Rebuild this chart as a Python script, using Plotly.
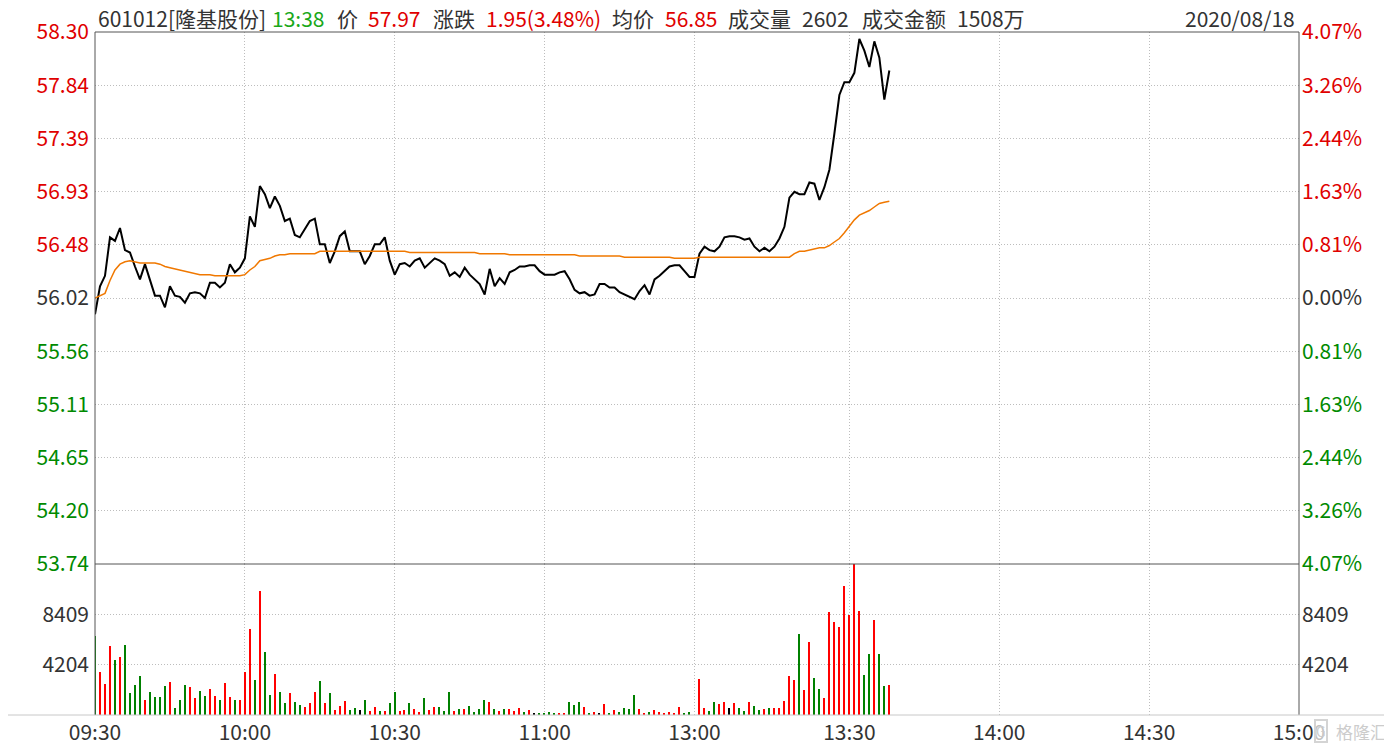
import plotly.graph_objects as go

# ---------------- data ----------------
time_labels = ["09:30", "10:00", "10:30", "11:00", "13:00", "13:30", "14:00", "14:30", "15:00"]
time_ticks = [0, 30, 60, 90, 120, 151, 181, 211, 241]

price_ticks = [58.30, 57.84, 57.39, 56.93, 56.48, 56.02, 55.56, 55.11, 54.65, 54.20, 53.74]
price_labels = ["58.30", "57.84", "57.39", "56.93", "56.48", "56.02", "55.56", "55.11", "54.65", "54.20", "53.74"]
pct_labels = ["4.07%", "3.26%", "2.44%", "1.63%", "0.81%", "0.00%", "0.81%", "1.63%", "2.44%", "3.26%", "4.07%"]
label_side = ["up", "up", "up", "up", "up", "flat", "down", "down", "down", "down", "down"]

vol_ticks = [4204, 8409]
vol_labels = ["4204", "8409"]

price = [
    55.88, 56.12, 56.21, 56.54, 56.51, 56.62, 56.43, 56.41, 56.29, 56.18,
    56.31, 56.18, 56.04, 56.04, 55.94, 56.12, 56.04, 56.03, 55.98, 56.06,
    56.07, 56.06, 56.02, 56.15, 56.15, 56.11, 56.15, 56.31, 56.24, 56.28,
    56.36, 56.72, 56.63, 56.98, 56.91, 56.79, 56.89, 56.81, 56.68, 56.70,
    56.56, 56.54, 56.61, 56.68, 56.70, 56.48, 56.48, 56.32, 56.42, 56.55,
    56.59, 56.42, 56.42, 56.42, 56.31, 56.38, 56.48, 56.48, 56.54, 56.34,
    56.22, 56.31, 56.32, 56.29, 56.34, 56.36, 56.28, 56.32, 56.36, 56.34,
    56.31, 56.21, 56.24, 56.20, 56.28, 56.22, 56.18, 56.14, 56.05, 56.27,
    56.12, 56.19, 56.14, 56.24, 56.26, 56.29, 56.29, 56.30, 56.30, 56.25,
    56.22, 56.22, 56.22, 56.24, 56.25, 56.18, 56.09, 56.06, 56.07, 56.04,
    56.05, 56.14, 56.14, 56.11, 56.11, 56.07, 56.05, 56.03, 56.01, 56.08,
    56.13, 56.05, 56.18, 56.21, 56.25, 56.29, 56.30, 56.30, 56.25, 56.20,
    56.20,
    56.40, 56.46, 56.43, 56.42, 56.46, 56.54, 56.55, 56.55, 56.54, 56.52,
    56.53, 56.46, 56.42, 56.45, 56.42, 56.46, 56.53, 56.63, 56.88, 56.93,
    56.91, 56.91, 57.01, 57.00, 56.86, 56.97, 57.12, 57.43, 57.76, 57.87,
    57.87, 57.95, 58.24, 58.14, 58.00, 58.22, 58.08, 57.72, 57.97,
]

avg_price = [
    56.02, 56.04, 56.06, 56.17, 56.26, 56.31, 56.33, 56.34, 56.33, 56.32,
    56.32, 56.32, 56.32, 56.31, 56.29, 56.28, 56.27, 56.26, 56.25, 56.24,
    56.23, 56.22, 56.22, 56.22, 56.21, 56.21, 56.21, 56.21, 56.21, 56.21,
    56.22, 56.26, 56.29, 56.34, 56.35, 56.36, 56.38, 56.39, 56.39, 56.40,
    56.40, 56.40, 56.40, 56.40, 56.40, 56.42, 56.42, 56.42, 56.42, 56.42,
    56.42, 56.42, 56.42, 56.42, 56.42, 56.42, 56.42, 56.42, 56.42, 56.42,
    56.42, 56.42, 56.42, 56.41, 56.41, 56.41, 56.41, 56.41, 56.41, 56.41,
    56.41, 56.41, 56.41, 56.41, 56.41, 56.41, 56.41, 56.40, 56.40, 56.40,
    56.40, 56.40, 56.40, 56.39, 56.39, 56.39, 56.39, 56.39, 56.39, 56.39,
    56.39, 56.39, 56.39, 56.39, 56.39, 56.39, 56.39, 56.38, 56.38, 56.38,
    56.38, 56.38, 56.38, 56.38, 56.38, 56.38, 56.37, 56.37, 56.37, 56.37,
    56.37, 56.37, 56.37, 56.37, 56.37, 56.37, 56.36, 56.36, 56.36, 56.36,
    56.36,
    56.37, 56.37, 56.37, 56.37, 56.37, 56.37, 56.37, 56.37, 56.37, 56.37,
    56.37, 56.37, 56.37, 56.37, 56.37, 56.37, 56.37, 56.37, 56.37, 56.40,
    56.42, 56.42, 56.43, 56.44, 56.45, 56.45, 56.47, 56.50, 56.53, 56.58,
    56.63, 56.69, 56.73, 56.75, 56.77, 56.80, 56.83, 56.84, 56.85,
]

volume = [
    6587, 3560, 2607, 5802, 4625, 4877, 5886, 1822, 2523, 3280,
    1261, 1934, 1514, 1514, 2439, 2775, 589, 1261, 2523, 2355,
    1430, 2018, 1598, 2186, 1598, 1261, 2691, 1514, 1261, 1261,
    3616, 7148, 2943, 10343, 5298, 1682, 3448, 1934, 1009, 1850,
    1093, 841, 673, 1009, 1934, 2859, 1009, 1850, 420, 757,
    1177, 420, 589, 420, 1261, 336, 673, 336, 336, 1009,
    1962, 336, 420, 1009, 505, 252, 1430, 420, 673, 673,
    336, 1962, 336, 505, 505, 757, 252, 505, 1261, 1093,
    505, 336, 505, 505, 336, 589, 252, 420, 168, 168,
    168, 252, 168, 168, 168, 1093, 841, 1093, 673, 84,
    252, 168, 925, 84, 420, 252, 589, 505, 1682, 505,
    168, 252, 420, 252, 84, 252, 168, 673, 84, 252,
    0,
    3027, 589, 336, 1093, 925, 1093, 589, 1009, 589, 336,
    1093, 757, 420, 505, 589, 589, 589, 1177, 3280, 2943,
    6727, 2102, 6139, 3111, 2186, 1430, 8577, 7736, 7316, 10764,
    8325, 12614, 8661, 3364, 5129, 7904, 5129, 2439, 2523,
]

# r = up (red), g = down (green), k = flat (black)
vol_dir = [
    "g", "r", "r", "r", "g", "r", "g", "g", "g", "g",
    "r", "g", "g", "g", "g", "r", "g", "g", "g", "r",
    "r", "g", "g", "r", "r", "g", "r", "r", "g", "r",
    "r", "r", "g", "r", "g", "g", "r", "g", "g", "r",
    "g", "g", "r", "r", "r", "g", "r", "g", "r", "r",
    "r", "g", "g", "k", "g", "r", "r", "g", "r", "g",
    "g", "r", "r", "g", "r", "r", "g", "r", "r", "g",
    "g", "g", "r", "g", "r", "g", "g", "g", "g", "r",
    "g", "r", "g", "r", "r", "r", "g", "r", "k", "g",
    "g", "g", "g", "r", "r", "g", "g", "g", "r", "g",
    "r", "k", "r", "g", "r", "g", "g", "g", "g", "r",
    "r", "g", "r", "r", "r", "r", "r", "r", "g", "g",
    "k",
    "r", "r", "g", "g", "r", "r", "k", "r", "g", "g",
    "r", "g", "g", "r", "g", "r", "r", "r", "r", "r",
    "g", "r", "r", "g", "g", "r", "r", "r", "r", "r",
    "r", "r", "r", "g", "g", "r", "g", "g", "r",
]

# ---------------- styling ----------------
RED = "#e00000"
GREEN = "#008a00"
DARK = "#333333"
GRID = "#bdbdbd"
AXIS = "#555555"
FONT = "Noto Sans CJK SC, Microsoft YaHei, sans-serif"
FS = 21
DOT = "1px,2px"

# the page body has an 8px default margin: the figure starts at (8, 8)
PAGE_W, PAGE_H, OFF = 1392, 747, 8
W, H = PAGE_W - OFF, PAGE_H - OFF
# plot area in screen pixels
L, R, T, B = 95, 1299, 32, 715
VOL_TOP = 564


def px_x(px):
    return (px - L) / (R - L)


def px_y(py):
    return (B - py) / (B - T)


vol_split = px_y(VOL_TOP)
side_color = {"up": RED, "down": GREEN, "flat": DARK}
dir_color = {"r": "#ff0000", "g": "#008000", "k": "#000000"}

left_text = [f"<span style='color:{side_color[s]}'>{t}</span>" for t, s in zip(price_labels, label_side)]
right_text = [f"<span style='color:{side_color[s]}'>{t}</span>" for t, s in zip(pct_labels, label_side)]

x_idx = list(range(len(price)))
v_idx = list(range(len(volume)))
bar_colors = [dir_color[c] for c in vol_dir[:len(volume)]]

fig = go.Figure()
fig.add_trace(go.Scatter(x=x_idx, y=price, mode="lines", line=dict(color="#000000", width=2),
                         xaxis="x", yaxis="y", hoverinfo="skip", showlegend=False))
fig.add_trace(go.Scatter(x=x_idx, y=avg_price, mode="lines", line=dict(color="#f07800", width=1.5),
                         xaxis="x", yaxis="y", hoverinfo="skip", showlegend=False))
fig.add_trace(go.Scatter(x=[0], y=[56.02], mode="markers", marker=dict(opacity=0),
                         xaxis="x", yaxis="y2", hoverinfo="skip", showlegend=False))
fig.add_trace(go.Bar(x=v_idx, y=volume, marker=dict(color=bar_colors, line=dict(width=0)), width=0.3,
                     xaxis="x2", yaxis="y3", hoverinfo="skip", showlegend=False))
fig.add_trace(go.Scatter(x=[0], y=[0], mode="markers", marker=dict(opacity=0),
                         xaxis="x2", yaxis="y4", hoverinfo="skip", showlegend=False))

grid_common = dict(showgrid=True, gridcolor=GRID, griddash=DOT, gridwidth=1, zeroline=False,
                   showline=False, ticks="", automargin=False)

fig.update_layout(
    width=W, height=H,
    margin=dict(l=L - OFF, r=PAGE_W - R, t=T - OFF, b=PAGE_H - B, autoexpand=False),
    paper_bgcolor="white", plot_bgcolor="white",
    font=dict(family=FONT, size=FS, color=DARK),
    bargap=0, showlegend=False,
    xaxis=dict(domain=[0, 1], anchor="y", range=[0, 241], tickvals=time_ticks[1:-1],
               showticklabels=False, **grid_common),
    xaxis2=dict(domain=[0, 1], anchor="y3", range=[0, 241], matches="x", tickvals=time_ticks,
                ticktext=time_labels, tickfont=dict(size=FS, color=DARK), ticklabelstandoff=3,
                **grid_common),
    yaxis=dict(domain=[vol_split, 1], anchor="x", range=[53.74, 58.30], tickvals=price_ticks,
               ticktext=left_text, side="left", ticklabelstandoff=5, **grid_common),
    yaxis2=dict(overlaying="y", anchor="x", side="right", range=[53.74, 58.30], tickvals=price_ticks,
                ticktext=right_text, showgrid=False, zeroline=False, ticks="", automargin=False,
                ticklabelstandoff=2),
    yaxis3=dict(domain=[0, vol_split], anchor="x2", range=[0, 12614], tickvals=vol_ticks,
                ticktext=vol_labels, side="left", ticklabelstandoff=5, **grid_common),
    yaxis4=dict(overlaying="y3", anchor="x2", side="right", range=[0, 12614], tickvals=vol_ticks,
                ticktext=vol_labels, showgrid=False, zeroline=False, ticks="", automargin=False,
                ticklabelstandoff=2),
)

# frame lines
frame = [
    dict(x0=0, x1=1, y0=1, y1=1, color=AXIS),
    dict(x0=0, x1=1, y0=vol_split, y1=vol_split, color=AXIS),
    dict(x0=0, x1=0, y0=0, y1=1, color=AXIS),
    dict(x0=1, x1=1, y0=0, y1=1, color=AXIS),
    dict(x0=px_x(OFF), x1=px_x(PAGE_W), y0=0, y1=0, color="#c8c8c8"),
]
for f in frame:
    fig.add_shape(type="line", xref="paper", yref="paper", x0=f["x0"], x1=f["x1"], y0=f["y0"], y1=f["y1"],
                  line=dict(color=f["color"], width=1), layer="above")

# header
HEADER_Y = 18
header = [
    ("601012[隆基股份]", 96, DARK),
    ("13:38", 270, "#1aa81a"),
    ("价", 335, DARK),
    ("57.97", 366, RED),
    ("涨跌", 431, DARK),
    ("1.95(3.48%)", 484, RED),
    ("均价", 610, DARK),
    ("56.85", 663, RED),
    ("成交量", 726, DARK),
    ("2602", 800, DARK),
    ("成交金额", 860, DARK),
    ("1508万", 955, DARK),
]
for txt, xp, col in header:
    fig.add_annotation(text=txt, xref="paper", yref="paper", x=px_x(xp), y=px_y(HEADER_Y),
                       xanchor="left", yanchor="middle", showarrow=False,
                       font=dict(size=FS, color=col, family=FONT))
fig.add_annotation(text="2020/08/18", xref="paper", yref="paper", x=px_x(1297), y=px_y(HEADER_Y),
                   xanchor="right", yanchor="middle", showarrow=False,
                   font=dict(size=FS, color=DARK, family=FONT))

# watermark
fig.add_annotation(text="G", xref="paper", yref="paper", x=px_x(1321), y=px_y(731),
                   xanchor="center", yanchor="middle", showarrow=False,
                   bordercolor="#d4d4d4", borderwidth=2, borderpad=0, bgcolor="rgba(255,255,255,0.7)",
                   font=dict(size=14, color="#cccccc", family=FONT))
fig.add_annotation(text="格隆汇", xref="paper", yref="paper", x=px_x(1389), y=px_y(731),
                   xanchor="right", yanchor="middle", showarrow=False,
                   font=dict(size=17, color="#cccccc", family=FONT))

fig.write_html("out.html")
